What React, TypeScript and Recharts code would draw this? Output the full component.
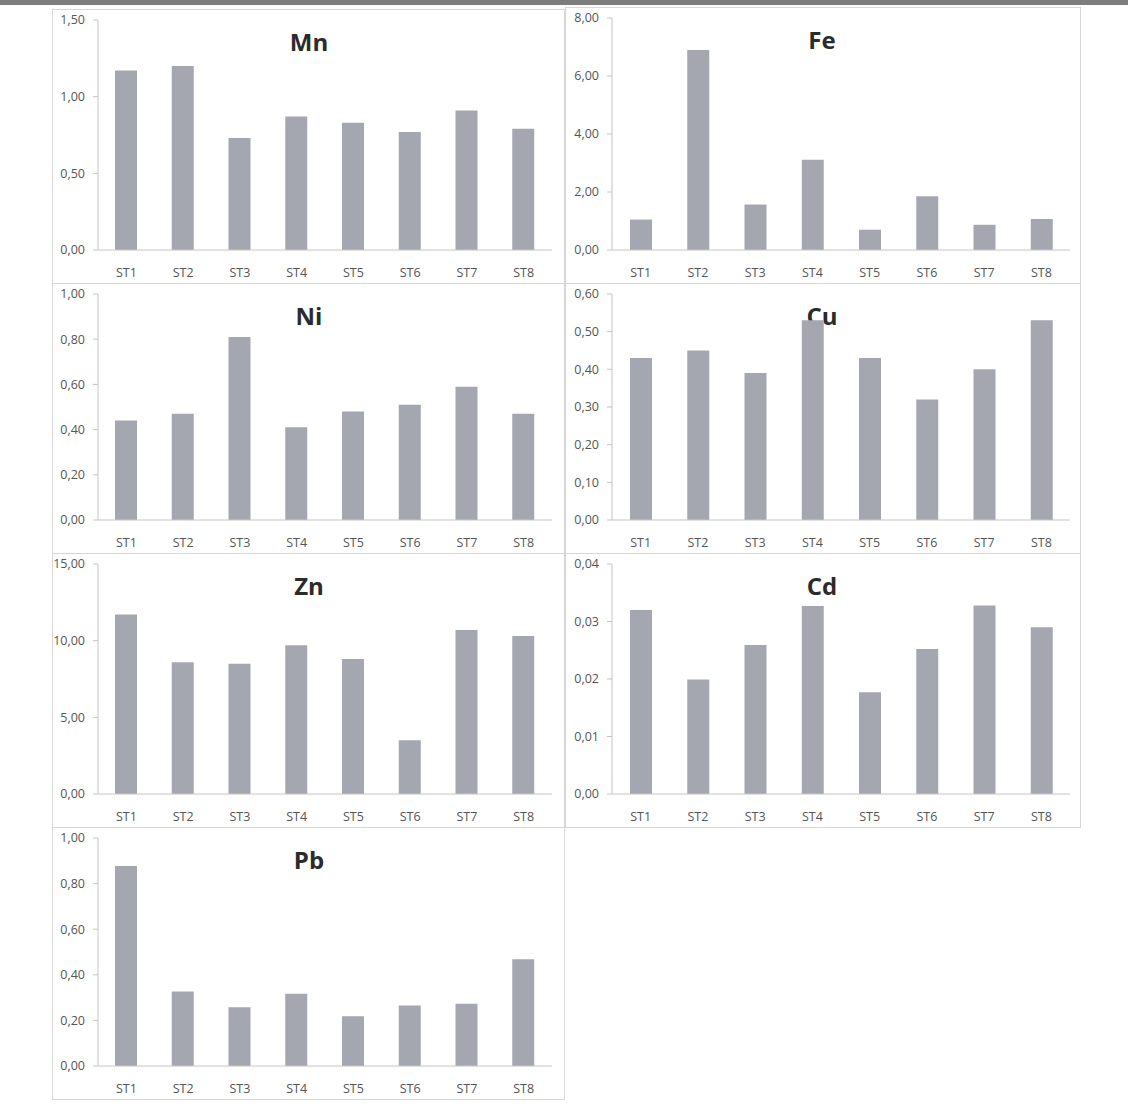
import React from 'react';
import { BarChart, Bar, XAxis, YAxis } from 'recharts';

const stations = ['ST1', 'ST2', 'ST3', 'ST4', 'ST5', 'ST6', 'ST7', 'ST8'];

const mnValues = [1.17, 1.2, 0.73, 0.87, 0.83, 0.77, 0.91, 0.79];
const feValues = [1.05, 6.9, 1.57, 3.11, 0.7, 1.85, 0.87, 1.07];
const niValues = [0.44, 0.47, 0.81, 0.41, 0.48, 0.51, 0.59, 0.47];
const cuValues = [0.43, 0.45, 0.39, 0.53, 0.43, 0.32, 0.4, 0.53];
const znValues = [11.7, 8.6, 8.5, 9.7, 8.8, 3.5, 10.7, 10.3];
const cdValues = [0.032, 0.0199, 0.0259, 0.0327, 0.0177, 0.0252, 0.0328, 0.029];
const pbValues = [0.877, 0.327, 0.258, 0.317, 0.218, 0.265, 0.273, 0.468];

const mnTicks = [0, 0.5, 1, 1.5];
const feTicks = [0, 2, 4, 6, 8];
const niTicks = [0, 0.2, 0.4, 0.6, 0.8, 1];
const cuTicks = [0, 0.1, 0.2, 0.3, 0.4, 0.5, 0.6];
const znTicks = [0, 5, 10, 15];
const cdTicks = [0, 0.01, 0.02, 0.03, 0.04];
const pbTicks = [0, 0.2, 0.4, 0.6, 0.8, 1];

const barColor = '#a5a7b0';
const axisColor = '#c4c4c4';
const labelColor = '#555555';
const font = '"Open Sans", "Noto Sans", sans-serif';

const comma = (v: number) => v.toFixed(2).replace('.', ',');

interface PanelProps {
  title: string;
  values: number[];
  ticks: number[];
  left: number;
  top: number;
  width: number;
  height: number;
  axisWidth: number;
  right: number;
}

const Panel: React.FC<PanelProps> = ({ title, values, ticks, left, top, width, height, axisWidth, right }) => {
  const data = stations.map((st, i) => ({ st, v: values[i] }));
  return (
    <div
      style={{
        position: 'absolute',
        left,
        top,
        width,
        height,
        border: '1px solid #d6d6d6',
        boxSizing: 'border-box',
        background: '#fff',
      }}
    >
      <div
        style={{
          position: 'absolute',
          left: 0,
          width: 512,
          top: 16,
          textAlign: 'center',
          fontFamily: font,
          fontWeight: 700,
          fontSize: 24,
          color: '#2b2b2b',
          lineHeight: '32px',
        }}
      >
        {title}
      </div>
      <div style={{ position: 'absolute', left: -1, top: -1 }}>
        <BarChart width={width} height={height} data={data} margin={{ top: 11, right, bottom: 0, left: 0 }}>
          <XAxis
            dataKey="st"
            height={34}
            tickLine={false}
            tickMargin={12}
            axisLine={{ stroke: axisColor }}
            tick={{ fill: labelColor, fontSize: 12.5, fontFamily: font }}
            interval={0}
          />
          <YAxis
            width={axisWidth}
            domain={[ticks[0], ticks[ticks.length - 1]]}
            ticks={ticks}
            interval={0}
            tickFormatter={comma}
            tickSize={5}
            tickMargin={8}
            axisLine={{ stroke: axisColor }}
            tickLine={{ stroke: axisColor }}
            tick={{ fill: labelColor, fontSize: 12.5, fontFamily: font }}
          />
          <Bar dataKey="v" fill={barColor} barSize={22} isAnimationActive={false} />
        </BarChart>
      </div>
    </div>
  );
};

const App: React.FC = () => {
  const lx = 52;
  const rx = 565;
  const lw = 513;
  const rw = 516;
  return (
    <div style={{ position: 'absolute', left: 0, top: 0, width: 1128, height: 1115, background: '#fff' }}>
      <div style={{ position: 'absolute', left: 0, top: 0, width: 1128, height: 5, background: '#7d7d7d' }} />
      <Panel title="Mn" values={mnValues} ticks={mnTicks} left={lx} top={9} width={lw} height={275} axisWidth={46} right={13} />
      <Panel title="Fe" values={feValues} ticks={feTicks} left={rx} top={7} width={rw} height={277} axisWidth={47} right={11} />
      <Panel title="Ni" values={niValues} ticks={niTicks} left={lx} top={283} width={lw} height={271} axisWidth={46} right={13} />
      <Panel title="Cu" values={cuValues} ticks={cuTicks} left={rx} top={283} width={rw} height={271} axisWidth={47} right={11} />
      <Panel title="Zn" values={znValues} ticks={znTicks} left={lx} top={553} width={lw} height={275} axisWidth={46} right={13} />
      <Panel title="Cd" values={cdValues} ticks={cdTicks} left={rx} top={553} width={rw} height={275} axisWidth={47} right={11} />
      <Panel title="Pb" values={pbValues} ticks={pbTicks} left={lx} top={827} width={lw} height={273} axisWidth={46} right={13} />
    </div>
  );
};

export default App;
